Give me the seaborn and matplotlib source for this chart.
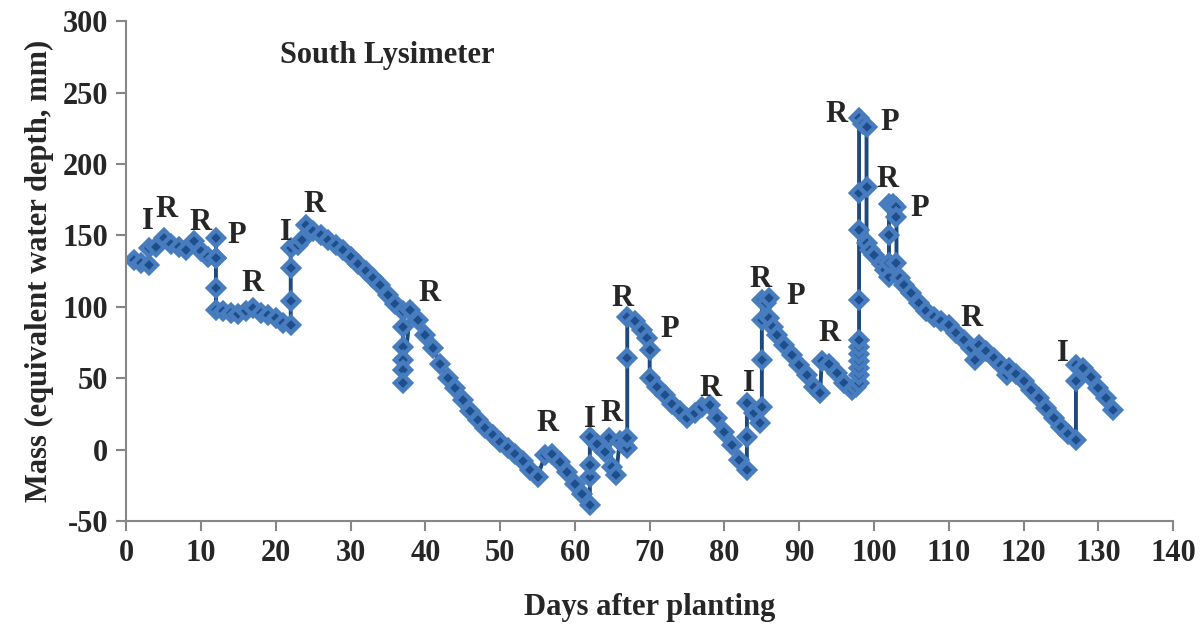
import matplotlib
matplotlib.use("Agg")
import matplotlib.pyplot as plt
import seaborn as sns
import pandas as pd

# lysimeter readings (day after planting, equivalent water depth in mm)
# repeated days are the sub-daily readings during an event
days = [1, 2, 3, 3, 4, 5, 6, 7, 8, 9, 10, 11,
        12, 12, 12, 12, 12,
        13, 14, 15, 16, 17, 18, 19, 20, 21, 22,
        22, 22, 22,
        23, 23.5, 24, 25, 26, 27, 28, 29, 30, 31, 32, 33, 34, 35, 36, 37,
        37, 37, 37, 37, 37,
        38, 39, 40, 41, 42, 43, 44, 45, 46, 47, 48, 49, 50, 51, 52, 53, 54, 55,
        56, 57, 58, 59, 60, 61, 62,
        62, 62, 62,
        63, 64, 64.5, 65, 65.5, 66, 66.5, 67,
        67, 67, 67,
        68, 69, 69.7, 70,
        70,
        71, 72, 73, 74, 75, 76, 77, 78, 79, 80, 81, 82, 83,
        83, 83,
        84, 84.8,
        85, 85, 85, 85,
        85.5, 86, 86,
        86.5, 87, 88, 89, 90, 91, 92, 92.8,
        93, 94, 95, 96, 97, 97.6,
        98, 98, 98, 98, 98, 98, 98, 98, 98, 98, 98,
        98.5, 99,
        99, 99,
        99.5, 100, 101, 101.5, 102,
        102, 102, 102,
        102.5, 103,
        103, 103,
        103.5, 104, 105, 106, 107, 108, 109, 110, 111, 112, 113, 113.5,
        114, 115, 116, 117, 117.8,
        118, 119, 120, 121, 122, 123, 124, 125, 126, 127,
        127, 127,
        128, 129, 130, 131, 132]
mass = [133, 131, 129, 141, 142, 148, 144, 142, 140, 146, 139, 135,
        134, 148, 134, 113, 98,
        97, 96, 95, 97, 99, 96, 94, 92, 89, 87,
        104, 127, 141,
        143, 147, 157, 153, 150, 147, 143, 140, 135, 130, 125, 120, 115, 108, 102, 97,
        86, 72, 63, 56, 47,
        98, 91, 80, 71, 60, 50, 43, 35, 27, 21, 15, 10, 5, 1, -3, -8, -14, -19,
        -4, -3, -9, -16, -24, -31, -39,
        -19, -11, 9,
        4, -2, 8, -12, -18, 6, 3, 1,
        8, 64, 93,
        90, 84, 78, 70,
        50,
        44, 38, 32, 27, 22, 26, 30, 31, 22, 12, 3, -7, -14,
        9, 33,
        26, 19,
        30, 63, 91, 105,
        103, 106, 92,
        86, 80, 73, 66, 59, 52, 44, 40,
        62, 60, 54, 47, 42, 44,
        47, 52, 57, 62, 67, 72, 77, 105, 154, 180, 232,
        228, 226,
        184, 145,
        140, 136, 130, 126, 121,
        131, 150, 172,
        172, 170,
        163, 131,
        120, 115, 110, 103, 97, 93, 90, 87, 82, 77, 71, 63,
        73, 69, 64, 59, 52,
        57, 53, 48, 42, 36, 29, 22, 16, 11, 7,
        48, 59,
        57, 51, 43, 36, 28]

# event labels: I = irrigation, R = rain, P = ...
label_text = ["I", "R", "R", "P", "R", "I", "R", "R", "R", "I", "R", "R", "P",
              "R", "I", "R", "P", "R", "R", "P", "R", "P", "R", "I"]
label_day = [2.9, 5.4, 10.0, 14.8, 16.9, 21.3, 25.2, 40.6, 56.4, 62.0, 64.9, 66.3, 72.7,
             78.1, 83.3, 84.8, 89.5, 94.0, 95.0, 102.1, 101.8, 106.1, 113.0, 125.2]
label_mass = [160, 168, 159, 150, 116, 152, 172, 109, 18, 21, 25, 106, 84,
              43, 46, 119, 107, 81, 235, 229, 189, 169, 92, 67]

sns.set_style("ticks")
plt.rcParams["font.family"] = ["Liberation Serif", "DejaVu Serif"]
plt.rcParams["font.weight"] = "bold"
plt.rcParams["axes.unicode_minus"] = False

fig, ax = plt.subplots(figsize=(12.02, 6.24), dpi=100)
fig.subplots_adjust(left=0.105, right=0.976, top=0.966, bottom=0.165)

df = pd.DataFrame({"Day": days, "Mass": mass})
sns.lineplot(data=df, x="Day", y="Mass", sort=False, estimator=None, ax=ax,
             color="#1F497D", linewidth=2.8, marker="D", markersize=8.5,
             markerfacecolor="#1F4E8C", markeredgecolor="#477DBE",
             markeredgewidth=3.2)

for t, d, m in zip(label_text, label_day, label_mass):
    ax.text(d, m, t, ha="center", va="center", fontsize=22, fontweight="bold")

ax.text(20.5, 276, "South Lysimeter", ha="left", va="center",
        fontsize=22, fontweight="bold")

ax.set_xlim(0, 140)
ax.set_ylim(-50, 300)
ax.set_xticks(range(0, 141, 10))
ax.set_yticks(range(-50, 301, 50))
ax.set_xlabel("Days after planting", fontsize=22, fontweight="bold", labelpad=18)
ax.set_ylabel("Mass (equivalent water depth, mm)", fontsize=22, fontweight="bold",
              labelpad=6)

sns.despine(ax=ax)
for s in ["left", "bottom"]:
    ax.spines[s].set_color("#868686")
    ax.spines[s].set_linewidth(1.5)
ax.tick_params(direction="out", length=7, width=1.5, color="#868686",
               labelsize=22, pad=6)
for lab in ax.get_xticklabels() + ax.get_yticklabels():
    lab.set_fontweight("bold")

plt.savefig("out.png", dpi=100)
